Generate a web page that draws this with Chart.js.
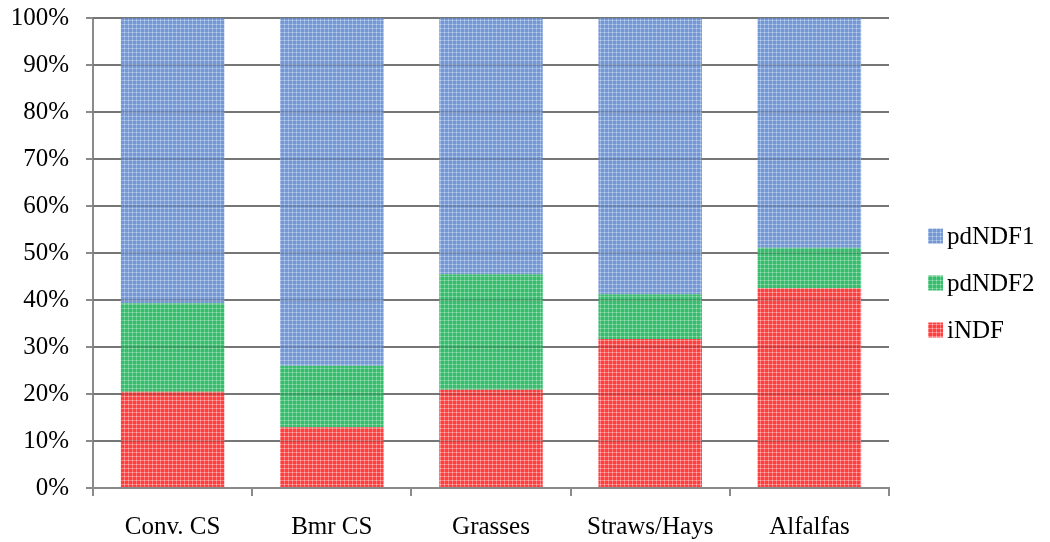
<!DOCTYPE html>
<html>
<head>
<meta charset="utf-8">
<script src="https://cdn.jsdelivr.net/npm/chart.js@4.4.1/dist/chart.umd.min.js"></script>
<style>
  html, body { margin: 0; padding: 0; background: #ffffff; }
  #wrap { width: 1050px; height: 542px; }
</style>
</head>
<body>
<div id="wrap"><canvas id="c" width="1050" height="542"></canvas></div>
<script>
// NDF fractions (% of total NDF) per forage group
const categories = ['Conv. CS', 'Bmr CS', 'Grasses', 'Straws/Hays', 'Alfalfas'];
const iNDF    = [20.5, 12.9, 20.9, 31.7, 42.5];
const pdNDF2  = [18.8, 13.1, 24.6,  9.5,  8.6];
const pdNDF1  = [60.7, 74.0, 54.5, 58.8, 48.9];
const yTicks  = [0, 10, 20, 30, 40, 50, 60, 70, 80, 90, 100];

const FONT = '"Liberation Serif", "Times New Roman", serif';

// small checked fill pattern for bars and legend swatches
function makePattern(base, line, dot) {
  const t = document.createElement('canvas');
  t.width = 4; t.height = 4;
  const g = t.getContext('2d');
  g.fillStyle = base; g.fillRect(0, 0, 4, 4);
  g.fillStyle = line; g.fillRect(0, 0, 4, 1); g.fillRect(0, 0, 1, 4);
  g.fillStyle = dot; g.fillRect(0, 0, 1, 1);
  return g.createPattern(t, 'repeat');
}
const ctx = document.getElementById('c').getContext('2d');
const fillBlue  = makePattern('#7598d4', '#98b4e2', '#c2d3ee');
const fillGreen = makePattern('#38bc6d', '#66ce90', '#a6e3be');
const fillRed   = makePattern('#ff3e3e', '#ff7c7c', '#ffb6b6');

const GRID = '#8a8a8a';

// grid lines show faintly through the bars
const gridOverlay = {
  id: 'gridOverlay',
  afterDatasetsDraw(chart) {
    const y = chart.scales.y, a = chart.chartArea, c = chart.ctx;
    c.save();
    c.strokeStyle = 'rgba(0,0,0,0.14)';
    c.lineWidth = 2;
    yTicks.forEach(v => {
      if (v === 0) return;
      const py = Math.round(y.getPixelForValue(v));
      c.beginPath(); c.moveTo(a.left, py); c.lineTo(a.right, py); c.stroke();
    });
    c.restore();
  }
};

// legend on the right, top item = top segment
const sideLegend = {
  id: 'sideLegend',
  afterDraw(chart) {
    const c = chart.ctx;
    const items = chart.data.datasets.slice().reverse();
    const x0 = 928, y0 = 236, step = 47, box = 15;
    c.save();
    c.font = '25px ' + FONT;
    c.textBaseline = 'middle';
    items.forEach((ds, i) => {
      const yy = y0 + i * step;
      c.fillStyle = ds.backgroundColor;
      c.fillRect(x0, yy - box / 2, box, box);
      c.fillStyle = '#000';
      c.fillText(ds.label, x0 + box + 4, yy + 1);
    });
    c.restore();
  }
};

new Chart(ctx, {
  type: 'bar',
  data: {
    labels: categories,
    datasets: [
      { label: 'iNDF',   data: iNDF,   backgroundColor: fillRed },
      { label: 'pdNDF2', data: pdNDF2, backgroundColor: fillGreen },
      { label: 'pdNDF1', data: pdNDF1, backgroundColor: fillBlue }
    ]
  },
  options: {
    responsive: false,
    animation: false,
    layout: { padding: { left: 0, right: 161, top: 18, bottom: 0 } },
    datasets: { bar: { categoryPercentage: 0.65, barPercentage: 1.0, borderWidth: 0 } },
    plugins: {
      legend: { display: false },
      tooltip: { enabled: false }
    },
    scales: {
      x: {
        stacked: true,
        grid: { display: true, drawOnChartArea: false, drawTicks: true, tickLength: 8, color: GRID, lineWidth: 2, offset: true },
        border: { display: true, color: GRID, width: 2 },
        ticks: { color: '#000', font: { family: FONT, size: 25 }, padding: 16, maxRotation: 0 },
        afterFit(s) { s.height = 54; s.paddingLeft = 0; s.paddingRight = 0; }
      },
      y: {
        stacked: true,
        min: 0, max: 100,
        afterBuildTicks(s) { s.ticks = yTicks.map(v => ({ value: v })); },
        grid: { color: GRID, lineWidth: 2, tickLength: 7 },
        border: { display: true, color: GRID, width: 2 },
        ticks: { color: '#000', font: { family: FONT, size: 25 }, padding: 17, callback: v => v + '%' },
        afterFit(s) { s.width = 93; s.paddingTop = 0; s.paddingBottom = 0; }
      }
    }
  },
  plugins: [gridOverlay, sideLegend]
});
</script>
</body>
</html>
